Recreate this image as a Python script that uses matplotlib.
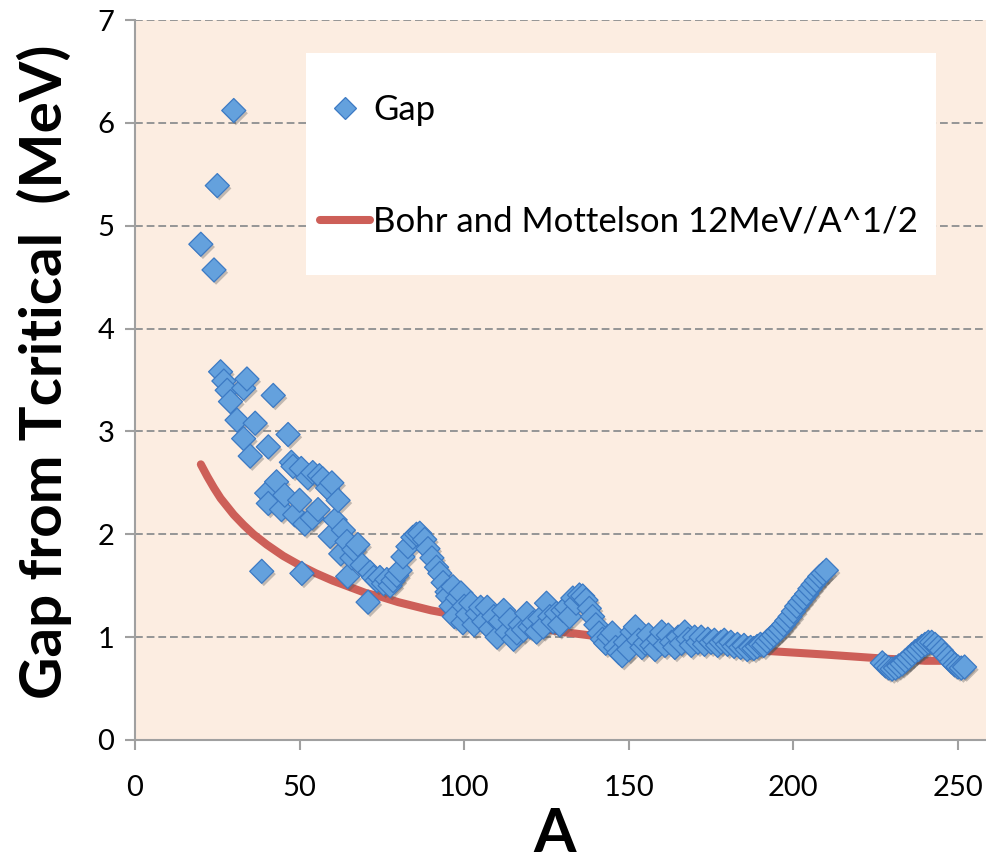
import matplotlib
matplotlib.use("Agg")
import matplotlib.pyplot as plt
from matplotlib.patches import Rectangle
from matplotlib.lines import Line2D
import matplotlib.patheffects as pe

plt.rcParams['font.family'] = ['Lato', 'DejaVu Sans']

# ---- data ----
gap_A = [20, 24, 25, 26, 27, 28, 29, 30, 31, 33, 33, 34, 35, 36.5, 38.5, 40, 40.5, 40.5, 42, 43,
         44.5, 45.5, 46.5, 47.5, 48, 48.5, 50, 50.5, 50.7, 51.6, 52.5, 53.8, 54, 55.6, 56, 57,
         58.5, 59.3, 59.8, 60.8, 61.7, 62.5, 63.3, 64.4, 64.6, 65.9, 66.5, 67.7, 69, 70.8, 71.4,
         72.5, 73.5, 74.4, 75.5, 76.5, 77.5, 78.4, 79.5, 80.5, 81.4, 82.9, 84.4, 85.5, 86.5, 88,
         89, 90.2, 91.6, 92.6, 93.6, 94.8,
         95, 96, 96.6, 97, 98, 99, 99.6, 100, 101, 102, 103, 104, 105, 106, 107, 108, 109, 110,
         111, 112, 113, 114, 115, 116, 117, 118, 119, 120, 121, 122, 123, 124, 125, 126, 127,
         128, 129, 130, 131, 132, 133, 134, 135, 136, 137, 138, 139, 140, 141, 142, 143, 144,
         145, 146, 147, 148, 149, 150, 151, 152, 153, 154, 155, 156, 157, 158, 159, 160, 161,
         162, 163, 164, 165, 166, 167, 168, 169, 170, 171, 172, 173, 174, 175, 176, 177, 178,
         179, 180, 181, 182, 183, 184, 185, 186, 187, 188, 189, 190, 191, 192, 193, 194, 195,
         196, 197, 198, 199, 200, 201, 202, 203, 204, 205, 206, 207, 208, 209, 210,
         227, 228, 229, 230, 231, 232, 233, 234, 235, 236, 237, 238, 239, 240, 241, 242, 243,
         244, 245, 246, 247, 248, 249, 250, 251, 252]
gap_val = [4.82, 4.57, 5.39, 3.58, 3.49, 3.40, 3.29, 6.12, 3.11, 2.93, 3.42, 3.51, 2.76, 3.08,
           1.64, 2.40, 2.30, 2.85, 3.35, 2.51, 2.24, 2.38, 2.97, 2.70, 2.66, 2.19, 2.33, 2.64,
           1.62, 2.10, 2.55, 2.16, 2.60, 2.24, 2.57, 2.54, 2.45, 1.98, 2.50, 2.14, 2.33, 1.81,
           2.04, 1.93, 1.59, 1.77, 1.85, 1.90, 1.70, 1.34, 1.63, 1.58, 1.55, 1.58, 1.52, 1.56,
           1.50, 1.55, 1.60, 1.65, 1.78, 1.88, 1.97, 2.00, 2.01, 1.95, 1.86, 1.77, 1.68, 1.62,
           1.53, 1.44,
           1.40, 1.30, 1.49, 1.20, 1.38, 1.43, 1.14, 1.30, 1.22, 1.33, 1.12, 1.23, 1.29, 1.15,
           1.29, 1.08, 1.20, 1.00, 1.15, 1.26, 1.05, 1.17, 0.98, 1.04, 1.12, 1.07, 1.23, 1.10,
           1.14, 1.05, 1.18, 1.10, 1.33, 1.20, 1.15, 1.23, 1.12, 1.26, 1.29, 1.20, 1.38, 1.33,
           1.41, 1.40, 1.36, 1.28, 1.20, 1.12, 1.04, 0.98, 0.94, 1.00, 1.04, 0.90, 0.85, 0.82,
           0.95, 0.88, 1.05, 1.10, 0.97, 0.90, 0.94, 1.02, 0.92, 0.88, 0.98, 1.05, 0.92, 1.02,
           0.95, 0.90, 1.00, 0.94, 1.05, 0.98, 0.92, 1.00, 0.95, 1.00, 0.93, 0.98, 0.95, 0.97,
           0.92, 0.95, 0.97, 0.93, 0.95, 0.91, 0.93, 0.90, 0.92, 0.88, 0.90, 0.89, 0.91, 0.93,
           0.92, 0.96, 0.99, 1.02, 1.05, 1.08, 1.12, 1.16, 1.20, 1.25, 1.30, 1.34, 1.38, 1.42,
           1.47, 1.51, 1.55, 1.59, 1.62, 1.65,
           0.75, 0.72, 0.70, 0.69, 0.70, 0.72, 0.74, 0.77, 0.80, 0.83, 0.86, 0.88, 0.91, 0.93,
           0.95, 0.95, 0.93, 0.90, 0.87, 0.83, 0.80, 0.76, 0.73, 0.71, 0.70, 0.71]

bm_A = [20, 22, 24, 26, 28, 30, 33, 36, 40, 45, 50, 55, 60, 65, 70, 75, 80, 90, 100, 110, 120,
        130, 140, 150, 160, 170, 180, 190, 200, 210, 228, 235, 240, 245, 252]
bm_val = [2.68, 2.56, 2.45, 2.35, 2.27, 2.19, 2.09, 2.00, 1.90, 1.79, 1.70, 1.62, 1.55, 1.49,
          1.43, 1.39, 1.34, 1.26, 1.20, 1.14, 1.10, 1.05, 1.01, 0.98, 0.95, 0.92, 0.89, 0.87,
          0.85, 0.83, 0.79, 0.78, 0.77, 0.77, 0.76]

x_ticks = [0, 50, 100, 150, 200, 250]
y_ticks = [0, 1, 2, 3, 4, 5, 6, 7]
legend_labels = ["Gap", "Bohr and Mottelson 12MeV/A^1/2"]

# ---- figure ----
W, H = 986, 867
fig = plt.figure(figsize=(W / 100, H / 100), dpi=100)
ax_l, ax_r, ax_t, ax_b = 135, 986, 20, 740
aw, ah = ax_r - ax_l, ax_b - ax_t
ax = fig.add_axes([ax_l / W, 1 - ax_b / H, aw / W, ah / H])
px_per_unit = (958 - 135) / 250
ax.set_xlim(0, aw / px_per_unit)
ax.set_ylim(0, 7)
ax.set_facecolor('#FCEDE1')

grid_col = '#959595'
ax.set_yticks(y_ticks)
ax.set_xticks(x_ticks)
ax.yaxis.grid(True, color=grid_col, linestyle=(0, (4, 2)), linewidth=1.4, zorder=0)
ax.set_axisbelow(True)
for s in ['top', 'right']:
    ax.spines[s].set_visible(False)
for s in ['left', 'bottom']:
    ax.spines[s].set_color('#A0A0A0')
    ax.spines[s].set_linewidth(1.5)
ax.tick_params(axis='both', direction='out', length=7, width=1.5, color='#A0A0A0',
               labelsize=21, labelcolor='black')
ax.tick_params(axis='y', pad=8)
ax.tick_params(axis='x', pad=18)

ax.plot(bm_A, bm_val, color='#CD5F58', linewidth=5.8, solid_capstyle='round', zorder=2,
        label=legend_labels[1])
sc = ax.scatter(gap_A, gap_val, marker='D', s=150, facecolor='#64A1DD', edgecolor='#3C7AC4',
                linewidth=0.9, zorder=3, label=legend_labels[0])
sc.set_path_effects([pe.SimplePatchShadow(offset=(1.5, -2), shadow_rgbFace='#555555', alpha=0.35),
                     pe.Normal()])

ax.set_xlabel('A', fontsize=44, fontweight='bold')
ax.xaxis.set_label_coords((555 - ax_l) / aw, (ax_b - 806) / ah)
ax.set_ylabel('Gap from Tcritical  (MeV)', fontsize=42, fontweight='bold')
ax.yaxis.set_label_coords((72 - ax_l) / aw, (ax_b - 372) / ah)

# legend box
bx0 = (306 - ax_l) / aw
bx1 = (936 - ax_l) / aw
by0 = (ax_b - 275) / ah
by1 = (ax_b - 53) / ah
ax.add_patch(Rectangle((bx0, by0), bx1 - bx0, by1 - by0, transform=ax.transAxes,
                       facecolor='white', edgecolor='none', zorder=4))
handles = [Line2D([], [], marker='D', linestyle='none', markersize=11, markerfacecolor='#64A1DD',
                  markeredgecolor='#3C7AC4', markeredgewidth=0.9),
           Line2D([], [], color='#CD5F58', linewidth=5.8, solid_capstyle='round')]
leg = ax.legend(handles, legend_labels, loc='upper left',
                bbox_to_anchor=((320 - ax_l) / aw, (ax_b - 94) / ah),
                frameon=False, fontsize=25, handlelength=1.44, handletextpad=0.1,
                labelspacing=2.3, borderpad=0, borderaxespad=0)
leg.set_zorder(5)

fig.savefig('out.png', dpi=100)
